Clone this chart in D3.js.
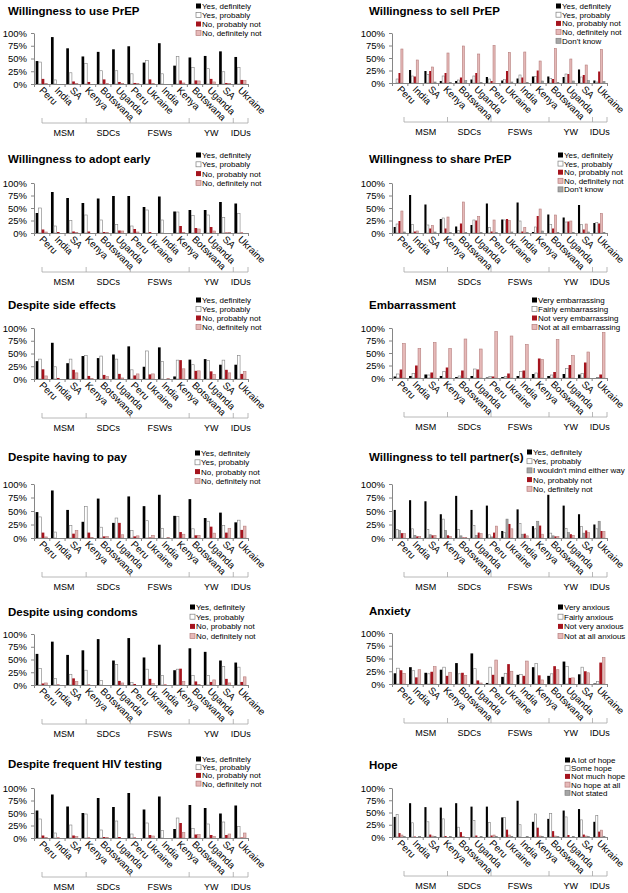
<!DOCTYPE html>
<html><head><meta charset="utf-8">
<script src="https://cdn.jsdelivr.net/npm/d3@7"></script>
<style>body{margin:0;background:#fff} text{font-family:"Liberation Sans",Arial,sans-serif;fill:#000}</style>
</head><body><svg id="c" width="628" height="893"></svg>
<script>
// ---------- DATA ----------
const categories = ["Peru","India","SA","Kenya","Botswana","Uganda","Peru","Ukraine","India","Kenya","Botswana","Uganda","SA","Ukraine"];
const groupNames = ["MSM","SDCs","FSWs","YW","IDUs"];
const groupSizes = [3,3,4,3,1];
const tickValues = [0,25,50,75,100];

const yesNoLabels = ["Yes, definitely","Yes, probably","No, probably not","No, definitely not"];
const yesNoDKLabels = ["Yes, definitely","Yes, probably","No, probably not","No, definitely not","Don't know"];
const embLabels = ["Very embarrassing","Fairly embarrassing","Not very embarrassing","Not at all embarrassing"];
const tellLabels = ["Yes, definitely","Yes, probably","I wouldn't mind either way","No, probably not","No, definitely not"];
const anxLabels = ["Very anxious","Fairly anxious","Not very anxious","Not at all anxious"];
const hopeLabels = ["A lot of hope","Some hope","Not much hope","No hope at all","Not stated"];

// values per series (one array per legend entry, 14 categories each)
const useDef   = [45,92,70,54,63,68,74,42,80,36,52,55,64,53];
const useProb  = [43, 8,22,40,26,26,20,46,20,54,32,30,24,32];
const useProbN = [10, 0, 5, 4, 9, 4, 2, 9, 0, 7, 7,10, 2, 8];
const useDefN  = [ 1, 0, 1, 0, 1, 1, 1, 1, 0, 2, 6, 4, 1, 7];

const earlyDef   = [40,82,70,60,69,74,74,52,73,43,46,46,62,59];
const earlyProb  = [50,14,25,36,26,17,14,46,26,42,35,36,31,39];
const earlyProbN = [ 7, 2, 3, 3, 2, 5, 8, 2, 0,14,10,12, 1, 1];
const earlyDefN  = [ 2, 0, 1, 0, 1, 4, 2, 0, 0, 1, 8, 4, 1, 0];

const sideDef   = [35,71,31,45,41,48,64,24,62, 5,38,39,28,28];
const sideProb  = [39,24,39,46,45,39,18,55,34,37,28,36,37,46];
const sideProbN = [19, 2,18, 6, 8,10, 7, 9, 0,37,16,15,18,10];
const sideDefN  = [ 6, 0,12, 1, 5, 2,10,10, 1,20,16, 9,12,15];

const payDef   = [48,88,52,30,73,28,77,59,80,41,72,37,47,29];
const payProb  = [39,11,23,58,20,37,14,32,18,40,17,31,23,33];
const payProbN = [10, 0, 8,10, 3,28, 3, 1, 0,11, 5,21,10,15];
const payDefN  = [ 2, 0,14, 1, 3, 6, 4, 5, 1, 7, 5, 9,18,22];

const condDef   = [61,85,59,68,90,48,92,54,79,29,72,65,48,44];
const condProb  = [32,13,21,29, 9,40, 5,31,19,31,19,19,36,35];
const condProbN = [ 3, 1,13, 1, 0, 8, 2,12, 1,32, 7, 6,12, 6];
const condDefN  = [ 4, 0, 7, 0, 0, 4, 0, 3, 0, 7, 1,10, 4,16];

const testDef   = [55,87,63,50,80,62,90,57,83,18,66,60,49,65];
const testProb  = [38,10,26,48,16,34, 8,30,15,40,19,28,32,23];
const testProbN = [ 5, 1, 5, 1, 2, 2, 1, 6, 0,30, 7, 6, 6, 1];
const testDefN  = [ 1, 0, 3, 0, 1, 0, 0, 4, 0,11, 7, 3, 8,10];

const sellDef   = [ 0,26,24, 4, 4, 7,12, 5, 9,13,13,12,27, 5];
const sellProb  = [ 8,14,17,14, 6,14, 8, 7,16,13, 9,18,12, 2];
const sellProbN = [20,13,24,20,11,20, 4,24,11,25, 8,18,16,23];
const sellDefN  = [68,46,32,60,74,58,75,61,62,44,69,48,36,67];
const sellDK    = [ 0, 0, 2, 1, 5, 1, 0, 2, 1, 4, 1, 4, 5, 3];

const shareDef   = [12,76,57,28,13,16,59,27,61, 2,37,31,56,20];
const shareProb  = [18,17,16,30, 5,26,11,26,24,12,17,22,17,21];
const shareProbN = [24, 3, 9, 9,19,25, 3,28, 3,34, 9,23, 7,19];
const shareDefN  = [44, 4,15,32,62,33,26,25,11,48,36,24,18,39];
const shareDK    = [ 2, 0, 2, 1, 1, 1, 1, 2, 1, 4, 1, 1, 2, 1];

const embVery   = [ 3, 4, 7, 4, 2, 4, 1, 2, 4, 8, 4, 8, 7, 0];
const embFairly = [ 8, 9, 6,13, 4,18, 3, 3,13,10, 6,19, 9, 1];
const embNotV   = [17,25,11,21,15,17, 3, 9,15,39,12,26,31, 7];
const embNotAll = [69,59,71,59,78,58,93,84,67,37,77,45,52,91];

const tellDef   = [52,70,68,44,78,52,60,13,53,22,80,60,44,25];
const tellProb  = [16,17,16,35,16,23, 6,10,27,17, 9,18,21,17];
const tellMind  = [14, 5, 6,14, 4, 5, 2,35, 7,31, 4,10, 9,31];
const tellProbN = [ 9, 3, 5, 5, 1,10,10,26, 8,23, 3, 7,14,13];
const tellDefN  = [ 8, 3, 5, 3, 1, 8,22,17, 4, 7, 3, 5,10,12];

const anxVery   = [21,33,22,28,41,60, 2,14,18,33,16,44,19, 1];
const anxFairly = [31,26,20,33,20,30,33,21,19,40,20,34,33, 5];
const anxNotV   = [27,13,24,16,22, 7,18,39,16,17,35,12,25,42];
const anxNotAll = [21,28,34,23,17, 2,47,25,45, 8,28,12,22,52];

const hopeLot   = [41,69,61,60,69,62,62,40,74,31,37,54,57,31];
const hopeSome  = [46,29,31,37,20,34,30,40,25,47,48,41,35,44];
const hopeNotM  = [ 8, 1, 5, 2,10, 3, 3,15, 0,19,12, 4, 5,11];
const hopeNone  = [ 4, 0, 2, 0, 1, 0, 4, 4, 0, 2, 2, 0, 2,14];
const hopeNS    = [ 1, 1, 1, 1, 0, 1, 1, 1, 1, 1, 1, 1, 1, 1];

// ---------- STYLES ----------
const styles = {
  k:{fill:"#000000",stroke:"none"},
  w:{fill:"#ffffff",stroke:"#7f7f7f"},
  r:{fill:"#a5141e",stroke:"none"},
  p:{fill:"#e6b9b8",stroke:"#b57d7c"},
  g:{fill:"#a6a6a6",stroke:"#7f7f7f"}
};

const panels = [
  {col:0,row:0,title:"Willingness to use PrEP",labels:yesNoLabels,keys:["k","w","r","p"],values:[useDef,useProb,useProbN,useDefN],
   ty:15,top:33,bottom:84,lx:196,ly:6,ld:9},
  {col:0,row:1,title:"Willingness to adopt early",labels:yesNoLabels,keys:["k","w","r","p"],values:[earlyDef,earlyProb,earlyProbN,earlyDefN],
   ty:163,top:183,bottom:233,lx:196,ly:155,ld:9.3},
  {col:0,row:2,title:"Despite side effects",labels:yesNoLabels,keys:["k","w","r","p"],values:[sideDef,sideProb,sideProbN,sideDefN],
   ty:309,top:328,bottom:379,lx:196,ly:300,ld:9},
  {col:0,row:3,title:"Despite having to pay",labels:yesNoLabels,keys:["k","w","r","p"],values:[payDef,payProb,payProbN,payDefN],
   ty:461,top:484,bottom:538,lx:195,ly:453,ld:9.3},
  {col:0,row:4,title:"Despite using condoms",labels:yesNoLabels,keys:["k","w","r","p"],values:[condDef,condProb,condProbN,condDefN],
   ty:616,top:634,bottom:685,lx:190,ly:607,ld:9.7},
  {col:0,row:5,title:"Despite frequent HIV testing",labels:yesNoLabels,keys:["k","w","r","p"],values:[testDef,testProb,testProbN,testDefN],
   ty:768,top:788,bottom:838,lx:196,ly:759,ld:8.2},
  {col:1,row:0,title:"Willingness to sell PrEP",labels:yesNoDKLabels,keys:["k","w","r","p","g"],values:[sellDef,sellProb,sellProbN,sellDefN,sellDK],
   ty:15,top:33,bottom:83,lx:556,ly:6,ld:8.7},
  {col:1,row:1,title:"Willingness to share PrEP",labels:yesNoDKLabels,keys:["k","w","r","p","g"],values:[shareDef,shareProb,shareProbN,shareDefN,shareDK],
   ty:163,top:183,bottom:233,lx:558,ly:155,ld:8.6},
  {col:1,row:2,title:"Embarrassment",labels:embLabels,keys:["k","w","r","p"],values:[embVery,embFairly,embNotV,embNotAll],
   ty:309,top:328,bottom:378,lx:532,ly:300,ld:9},
  {col:1,row:3,title:"Willingness to tell partner(s)",labels:tellLabels,keys:["k","w","g","r","p"],values:[tellDef,tellProb,tellMind,tellProbN,tellDefN],
   ty:461,top:484,bottom:538,lx:527,ly:452,ld:9.2},
  {col:1,row:4,title:"Anxiety",labels:anxLabels,keys:["k","w","r","p"],values:[anxVery,anxFairly,anxNotV,anxNotAll],
   ty:615,top:633,bottom:684,lx:558,ly:607,ld:9.7},
  {col:1,row:5,title:"Hope",labels:hopeLabels,keys:["k","w","r","p","g"],values:[hopeLot,hopeSome,hopeNotM,hopeNone,hopeNS],
   ty:769,top:788,bottom:837,lx:565,ly:760,ld:8.2}
];

const svg = d3.select("#c");
const axisColor = "#868686";

panels.forEach(P => {
  const x0 = P.col === 0 ? 34 : 392;
  const x1 = P.col === 0 ? 248 : 607;
  const titleX = P.col === 0 ? 8 : 369;
  const g = svg.append("g");

  // title
  g.append("text").attr("x", titleX).attr("y", P.ty)
    .attr("font-size", 11.5).attr("font-weight", "bold").text(P.title);

  const x = d3.scaleBand().domain(d3.range(categories.length)).range([x0, x1])
    .paddingInner(0.22).paddingOuter(0.11);
  const xs = d3.scaleBand().domain(d3.range(P.keys.length)).range([0, x.bandwidth()]);
  const y = d3.scaleLinear().domain([0, 100]).range([P.bottom, P.top]);

  // bars
  P.values.forEach((vals, si) => {
    const st = styles[P.keys[si]];
    g.append("g").selectAll("rect").data(vals).join("rect")
      .attr("x", (d, i) => x(i) + xs(si))
      .attr("y", d => y(d))
      .attr("width", xs.bandwidth() - 0.3)
      .attr("height", d => y(0) - y(d))
      .attr("fill", st.fill)
      .attr("stroke", st.stroke)
      .attr("stroke-width", 0.6);
  });

  // y axis
  const ya = g.append("g").attr("transform", `translate(${x0},0)`)
    .call(d3.axisLeft(y).tickValues(tickValues).tickFormat(d => d + "%").tickSize(3).tickPadding(4).tickSizeOuter(0));
  ya.select(".domain").attr("stroke", axisColor);
  ya.selectAll(".tick line").attr("stroke", axisColor);
  ya.selectAll(".tick text").attr("font-size", 9.5).attr("fill", "#000")
    .attr("font-family", '"Liberation Sans",Arial,sans-serif');

  // x axis (category boundaries)
  const xb = d3.scaleLinear().domain([0, categories.length]).range([x0, x1]);
  const xa = g.append("g").attr("transform", `translate(0,${P.bottom})`)
    .call(d3.axisBottom(xb).tickValues(d3.range(categories.length + 1)).tickFormat("").tickSize(3).tickSizeOuter(0));
  xa.select(".domain").attr("stroke", axisColor);
  xa.selectAll(".tick line").attr("stroke", axisColor);

  // category labels
  g.append("g").selectAll("text").data(categories).join("text")
    .attr("transform", (d, i) => `translate(${x(i) + x.bandwidth() / 2 - 3},${P.bottom + 7}) rotate(45)`)
    .attr("font-size", 9.8).text(d => d);

  // group brackets
  const off = P.col === 0 ? 8 : 12;
  const bx = d3.scaleLinear().domain([0, categories.length]).range([x0 + off, x1]);
  const by = P.bottom + 39;
  const bounds = [0];
  groupSizes.forEach(s => bounds.push(bounds[bounds.length - 1] + s));
  g.append("line").attr("x1", bx(0)).attr("x2", bx(categories.length))
    .attr("y1", by).attr("y2", by).attr("stroke", "#a6a6a6").attr("stroke-width", 0.8);
  g.append("g").selectAll("line").data(bounds).join("line")
    .attr("x1", d => bx(d)).attr("x2", d => bx(d))
    .attr("y1", by - 5).attr("y2", by).attr("stroke", "#a6a6a6").attr("stroke-width", 0.8);
  g.append("g").selectAll("text").data(groupNames).join("text")
    .attr("x", (d, i) => bx((bounds[i] + bounds[i + 1]) / 2))
    .attr("y", by + 13).attr("text-anchor", "middle").attr("font-size", 9).text(d => d);

  // legend
  const lg = g.append("g");
  P.labels.forEach((lab, i) => {
    const st = styles[P.keys[i]];
    const cy = P.ly + i * P.ld;
    lg.append("rect").attr("x", P.lx).attr("y", cy - 2.5).attr("width", 5).attr("height", 5)
      .attr("fill", st.fill).attr("stroke", st.stroke === "none" ? "none" : st.stroke).attr("stroke-width", 0.7);
    lg.append("text").attr("x", P.lx + 6).attr("y", cy + 3).attr("font-size", 8).text(lab);
  });
});
</script></body></html>
